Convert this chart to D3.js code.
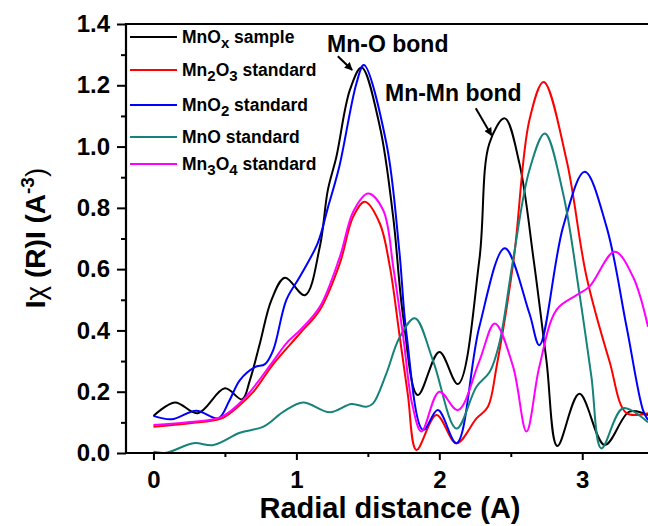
<!DOCTYPE html>
<html>
  <head>
    <meta charset="UTF-8">
    <title>Radial distance</title>
    <style>
      * { margin: 0; padding: 0; overflow: hidden; }
      body { background: #fff; }
      text { font-family: "Liberation Sans", Arial, sans-serif; font-weight: bold; }
    </style>
    <script src="https://d3js.org/d3.v7.min.js"></script>
  </head>
  <body>
    <script type="text/javascript">
      // series names (use _ before a subscript character)
      const seriesNames = ["MnO_x sample", "Mn_2O_3 standard", "MnO_2 standard", "MnO standard", "Mn_3O_4 standard"];
      const COLOR_SET = ["#000000", "#ff0000", "#0000ff", "#16827a", "#ff00ff"];

      // MnOx sample
      const sampleR = [0, 0.15, 0.31, 0.50, 0.62, 0.675, 0.745, 0.826, 0.92, 1.06, 1.164, 1.22, 1.28, 1.374, 1.456, 1.584, 1.677, 1.747, 1.85, 2.0, 2.13, 2.28, 2.35, 2.458, 2.56, 2.66, 2.75, 2.826, 2.98, 3.157, 3.33, 3.46];
      const sampleY = [0.121, 0.165, 0.13, 0.211, 0.175, 0.238, 0.358, 0.50, 0.572, 0.515, 0.673, 0.858, 0.967, 1.184, 1.258, 1.065, 0.771, 0.445, 0.189, 0.33, 0.225, 0.63, 1.01, 1.092, 0.946, 0.63, 0.30, 0.023, 0.193, 0.026, 0.135, 0.124];
      // Mn2O3 standard
      const mn2o3R = [0, 0.255, 0.477, 0.605, 0.70, 0.838, 1.024, 1.164, 1.304, 1.397, 1.479, 1.584, 1.654, 1.72, 1.78, 1.84, 1.98, 2.12, 2.26, 2.34, 2.40, 2.52, 2.63, 2.73, 2.89, 3.03, 3.19, 3.31, 3.46];
      const mn2o3Y = [0.086, 0.097, 0.113, 0.157, 0.20, 0.29, 0.39, 0.467, 0.619, 0.771, 0.82, 0.749, 0.608, 0.39, 0.19, 0.01, 0.124, 0.032, 0.113, 0.151, 0.28, 0.63, 1.086, 1.211, 0.956, 0.575, 0.30, 0.13, 0.13];
      // MnO2 standard
      const mno2R = [0, 0.127, 0.30, 0.453, 0.53, 0.605, 0.71, 0.78, 0.838, 0.93, 1.024, 1.15, 1.22, 1.30, 1.42, 1.472, 1.63, 1.72, 1.77, 1.887, 1.99, 2.12, 2.28, 2.458, 2.63, 2.70, 2.866, 3.017, 3.17, 3.31, 3.425, 3.46];
      const mno2Y = [0.121, 0.11, 0.138, 0.113, 0.17, 0.238, 0.28, 0.29, 0.336, 0.50, 0.575, 0.686, 0.80, 0.934, 1.206, 1.266, 1.01, 0.66, 0.39, 0.075, 0.14, 0.032, 0.412, 0.668, 0.456, 0.352, 0.738, 0.918, 0.738, 0.412, 0.14, 0.108];
      // MnO standard
      const mnoR = [0, 0.09, 0.28, 0.42, 0.605, 0.77, 0.91, 1.047, 1.234, 1.386, 1.49, 1.537, 1.63, 1.72, 1.829, 1.957, 2.12, 2.26, 2.353, 2.42, 2.516, 2.63, 2.738, 2.866, 2.98, 3.064, 3.134, 3.285, 3.46];
      const mnoY = [0.004, 0.001, 0.032, 0.026, 0.066, 0.086, 0.135, 0.165, 0.133, 0.16, 0.151, 0.162, 0.26, 0.375, 0.44, 0.30, 0.08, 0.216, 0.265, 0.358, 0.63, 0.923, 1.043, 0.847, 0.521, 0.249, 0.015, 0.146, 0.10];
      // Mn3O4 standard
      const mn3o4R = [0, 0.255, 0.477, 0.63, 0.838, 0.93, 1.024, 1.164, 1.304, 1.40, 1.502, 1.607, 1.68, 1.75, 1.81, 1.875, 2.0, 2.13, 2.28, 2.388, 2.516, 2.61, 2.70, 2.82, 2.96, 3.05, 3.227, 3.355, 3.46];
      const mn3o4Y = [0.091, 0.101, 0.118, 0.175, 0.30, 0.358, 0.40, 0.477, 0.64, 0.79, 0.847, 0.793, 0.60, 0.37, 0.16, 0.07, 0.20, 0.14, 0.30, 0.423, 0.282, 0.07, 0.282, 0.467, 0.515, 0.543, 0.657, 0.575, 0.412];

      const xTicks = [0, 1, 2, 3];
      const xMinor = [0.5, 1.5, 2.5];
      const yTicks = [0, 0.2, 0.4, 0.6, 0.8, 1.0, 1.2, 1.4];
      const yMinor = [0.1, 0.3, 0.5, 0.7, 0.9, 1.1, 1.3];

      const seriesR = [sampleR, mn2o3R, mno2R, mnoR, mn3o4R];
      const seriesY = [sampleY, mn2o3Y, mno2Y, mnoY, mn3o4Y];

      const WIDTH = 648, HEIGHT = 526;
      const L = 126, T = 24, R = 648, B = 453;

      const svg = d3.select("body").append("svg")
        .attr("width", WIDTH).attr("height", HEIGHT);

      const x = d3.scaleLinear().domain([-0.192, 3.46]).range([L, R]);
      const y = d3.scaleLinear().domain([0, 1.4]).range([B, T]);

      svg.append("clipPath").attr("id", "plot")
        .append("rect").attr("x", L).attr("y", T).attr("width", R - L).attr("height", B - T);

      // curves
      const line = d3.line()
        .x((d) => x(d[0]))
        .y((d) => y(d[1]))
        .curve(d3.curveCatmullRom.alpha(0.5));

      const curves = svg.append("g").attr("clip-path", "url(#plot)");
      seriesR.forEach((rs, i) => {
        curves.append("path")
          .datum(rs.map((r, j) => [r, seriesY[i][j]]))
          .attr("d", line)
          .attr("fill", "none")
          .attr("stroke", COLOR_SET[i])
          .attr("stroke-width", 2);
      });

      // axes
      const styleAxis = (g) => {
        g.select(".domain").remove();
        g.selectAll("line").attr("stroke", "#000").attr("stroke-width", 2);
        g.selectAll("text").attr("fill", "#000").style("font-size", "24px");
      };

      svg.append("g").attr("transform", `translate(0,${B})`)
        .call(d3.axisBottom(x).tickValues(xTicks).tickSize(7).tickPadding(11).tickFormat(d3.format("d")))
        .call(styleAxis);
      svg.append("g").attr("transform", `translate(0,${B})`)
        .call(d3.axisBottom(x).tickValues(xMinor).tickSize(4).tickFormat(""))
        .call(styleAxis);
      svg.append("g").attr("transform", `translate(${L},0)`)
        .call(d3.axisLeft(y).tickValues(yTicks).tickSize(9).tickPadding(7).tickFormat(d3.format(".1f")))
        .call(styleAxis);
      svg.append("g").attr("transform", `translate(${L},0)`)
        .call(d3.axisLeft(y).tickValues(yMinor).tickSize(5).tickFormat(""))
        .call(styleAxis);

      // frame
      svg.append("path")
        .attr("d", `M${R + 2},${T}H${L}V${B}H${R + 2}`)
        .attr("fill", "none").attr("stroke", "#000").attr("stroke-width", 2.2);

      // legend
      const legendRows = [37, 70, 105, 137, 164];
      const legend = svg.append("g");
      seriesNames.forEach((name, i) => {
        const row = legend.append("g").attr("transform", `translate(130,${legendRows[i]})`);
        row.append("line").attr("x1", 0).attr("x2", 47)
          .attr("stroke", COLOR_SET[i]).attr("stroke-width", 2);
        const t = row.append("text").attr("x", 52).attr("y", 6).style("font-size", "17.5px");
        let sub = false;
        name.split(/(_.)/).filter((s) => s.length).forEach((part) => {
          if (part[0] === "_") {
            t.append("tspan").attr("dy", 5).style("font-size", "15px").text(part[1]);
            sub = true;
          } else {
            t.append("tspan").attr("dy", sub ? -5 : 0).text(part);
            sub = false;
          }
        });
      });

      // annotations
      svg.append("defs").append("marker")
        .attr("id", "arrow").attr("viewBox", "0 0 10 10")
        .attr("refX", 9).attr("refY", 5)
        .attr("markerWidth", 4).attr("markerHeight", 4)
        .attr("orient", "auto")
        .append("path").attr("d", "M0,0L10,5L0,10Z").attr("fill", "#000");

      const notes = [
        { text: "Mn-O bond", tx: 1.215, ty: 1.31, from: [1.29, 1.295], to: [1.39, 1.25] },
        { text: "Mn-Mn bond", tx: 1.62, ty: 1.15, from: [2.255, 1.125], to: [2.365, 1.037] }
      ];
      notes.forEach((n) => {
        svg.append("text").attr("x", x(n.tx)).attr("y", y(n.ty))
          .style("font-size", "23px").text(n.text);
        svg.append("line")
          .attr("x1", x(n.from[0])).attr("y1", y(n.from[1]))
          .attr("x2", x(n.to[0])).attr("y2", y(n.to[1]))
          .attr("stroke", "#000").attr("stroke-width", 2)
          .attr("marker-end", "url(#arrow)");
      });

      // axis titles
      svg.append("text")
        .attr("x", 390).attr("y", 518)
        .attr("text-anchor", "middle")
        .style("font-size", "29px")
        .text("Radial distance (A)");

      const yt = svg.append("text")
        .attr("transform", "translate(45,238) rotate(-90)")
        .attr("text-anchor", "middle")
        .style("font-size", "28px");
      yt.append("tspan").text("I");
      yt.append("tspan").style("font-weight", "normal").text("χ");
      yt.append("tspan").text(" (R)I (A");
      yt.append("tspan").attr("dy", -11).style("font-size", "19px").text("-3");
      yt.append("tspan").attr("dy", 11).style("font-weight", "normal").text(")");
    </script>
  </body>
</html>
